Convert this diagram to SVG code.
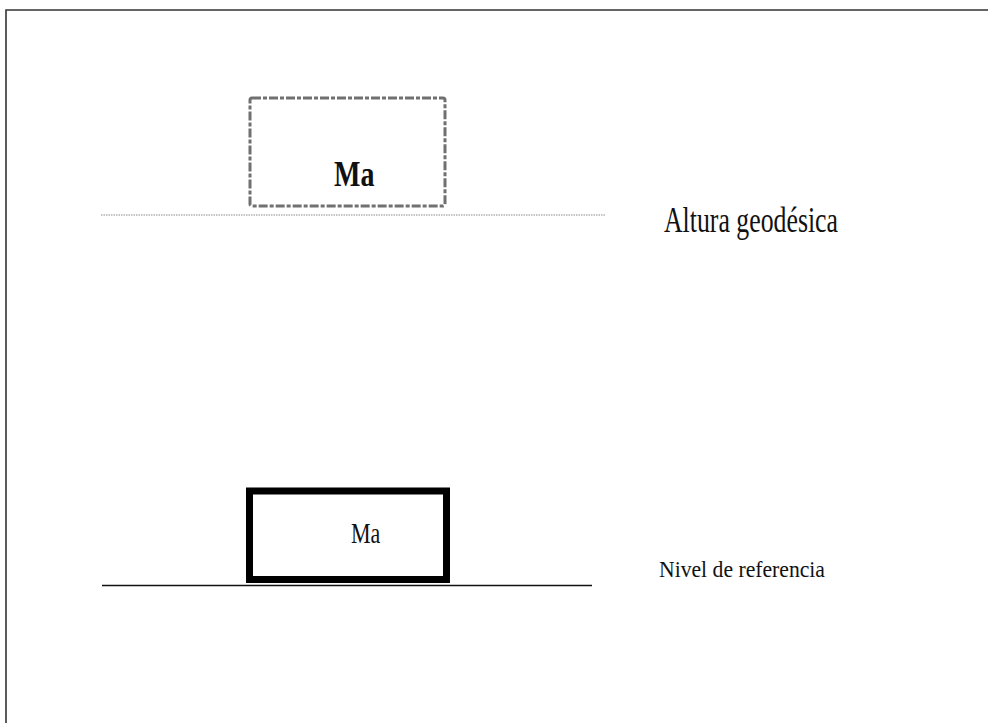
<svg xmlns="http://www.w3.org/2000/svg" width="988" height="723" viewBox="0 0 988 723">
  <style>
    .frame { fill: none; stroke: #333; stroke-width: 1.6; }
    .lbl { font-family: "Liberation Serif", "Times New Roman", serif; fill: #111; }
    .mass-up { fill: none; stroke: #707070; stroke-width: 3; stroke-dasharray: 9 2 4 2; }
    .mass-down { fill: none; stroke: #000; stroke-width: 7; }
  </style>
  <rect width="988" height="723" fill="#fff"/>
  <!-- page frame, open to the right and bottom -->
  <path class="frame" d="M6 723 V10 H988"/>

  <g id="connectors">
    <!-- geodesic height line -->
    <line x1="101" y1="215" x2="606" y2="215" stroke="#8a8a8a" stroke-width="1.2" stroke-dasharray="1.5 1"/>
    <!-- reference level -->
    <line x1="102" y1="585.5" x2="592" y2="585.5" stroke="#111" stroke-width="1.6"/>
  </g>

  <g id="mass-raised">
    <rect class="mass-up" x="250" y="98" width="195" height="108" rx="2"/>
    <text class="lbl" font-weight="bold" font-size="28" transform="translate(334,186) scale(1,1.25)">Ma</text>
  </g>

  <g id="mass-ground">
    <rect class="mass-down" x="249.5" y="491" width="197" height="88.5"/>
    <text class="lbl" font-size="22" transform="translate(351,543) scale(1,1.3)">Ma</text>
  </g>

  <g id="label-height">
    <text class="lbl" font-size="26" textLength="174" lengthAdjust="spacingAndGlyphs" transform="translate(664,232) scale(1,1.4)">Altura geodésica</text>
  </g>

  <g id="label-reference">
    <text class="lbl" font-size="21" textLength="166" lengthAdjust="spacingAndGlyphs" transform="translate(659,577) scale(1,1.1)">Nivel de referencia</text>
  </g>
</svg>
